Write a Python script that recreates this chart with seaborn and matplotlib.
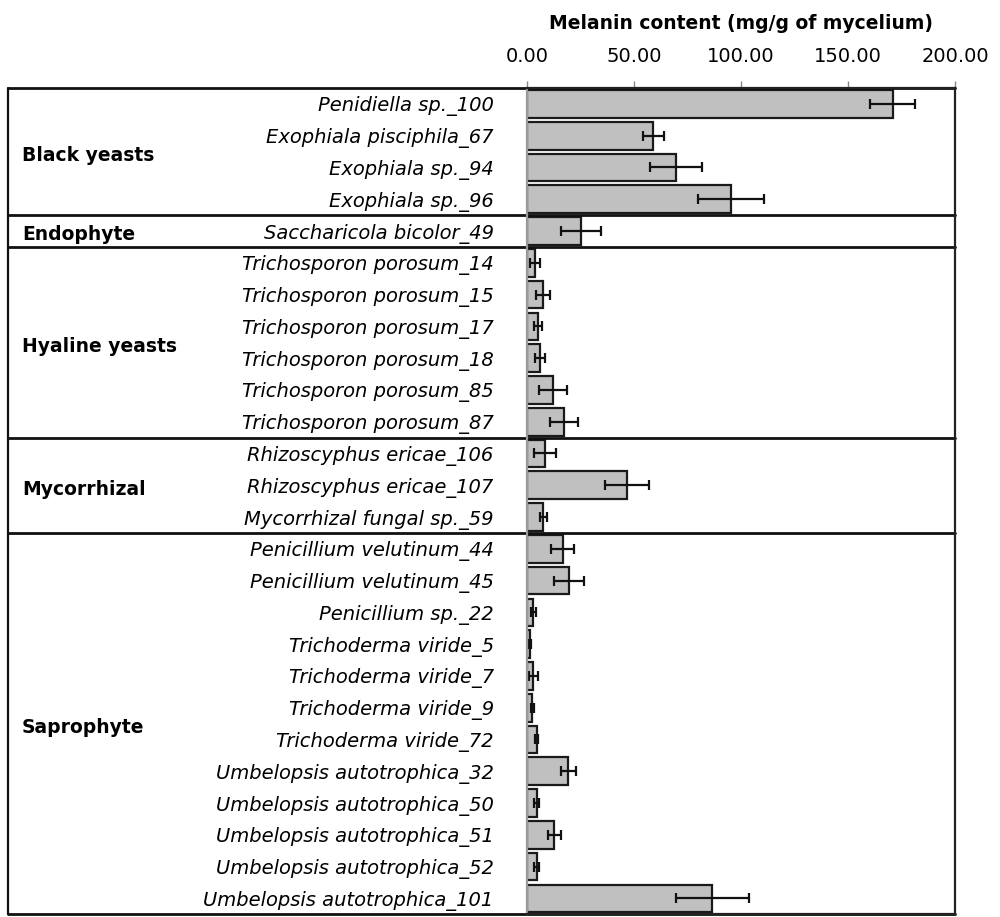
import matplotlib
matplotlib.use('Agg')
import matplotlib.pyplot as plt
import matplotlib.transforms as mtransforms
import numpy as np
import pandas as pd
import seaborn as sns

species = ['Penidiella sp._100', 'Exophiala pisciphila_67', 'Exophiala sp._94', 'Exophiala sp._96',
           'Saccharicola bicolor_49',
           'Trichosporon porosum_14', 'Trichosporon porosum_15', 'Trichosporon porosum_17',
           'Trichosporon porosum_18', 'Trichosporon porosum_85', 'Trichosporon porosum_87',
           'Rhizoscyphus ericae_106', 'Rhizoscyphus ericae_107', 'Mycorrhizal fungal sp._59',
           'Penicillium velutinum_44', 'Penicillium velutinum_45', 'Penicillium sp._22',
           'Trichoderma viride_5', 'Trichoderma viride_7', 'Trichoderma viride_9',
           'Trichoderma viride_72', 'Umbelopsis autotrophica_32', 'Umbelopsis autotrophica_50',
           'Umbelopsis autotrophica_51', 'Umbelopsis autotrophica_52', 'Umbelopsis autotrophica_101']
melanin = [171.0, 59.0, 69.6, 95.2,
           25.1,
           3.8, 7.6, 5.3, 6.1, 12.0, 17.4,
           8.4, 46.6, 7.6,
           16.7, 19.6, 3.0, 1.4, 3.0, 2.5, 4.5, 19.3, 4.5, 12.8, 4.5, 86.6]
sd = [10.5, 5.0, 12.0, 15.4,
      9.4,
      2.5, 3.3, 1.8, 2.5, 6.6, 6.6,
      5.0, 10.3, 1.6,
      5.4, 7.0, 1.0, 0.5, 2.0, 0.8, 0.8, 3.5, 1.0, 2.9, 1.0, 17.0]
groups = ['Black yeasts'] * 4 + ['Endophyte'] + ['Hyaline yeasts'] * 6 + \
         ['Mycorrhizal'] * 3 + ['Saprophyte'] * 12
group_names = ['Black yeasts', 'Endophyte', 'Hyaline yeasts', 'Mycorrhizal', 'Saprophyte']
xticks = [0, 50, 100, 150, 200]

df = pd.DataFrame({'species': species, 'melanin': melanin, 'sd': sd, 'group': groups})

sns.set_style('white')
plt.rcParams['font.family'] = ['DejaVu Sans']
plt.rcParams['text.color'] = 'black'
plt.rcParams['axes.labelcolor'] = 'black'
plt.rcParams['xtick.labelcolor'] = 'black'
plt.rcParams['ytick.labelcolor'] = 'black'

fig = plt.figure(figsize=(10, 9.17), dpi=100)
ax = fig.add_axes([0.527, 0.003, 0.428, 0.901])

sns.barplot(data=df, x='melanin', y='species', orient='h', color='#c0c0c0',
            edgecolor='#1a1a1a', linewidth=1.6, width=0.87, saturation=1, ax=ax)
ax.errorbar(df['melanin'], np.arange(len(df)), xerr=df['sd'], fmt='none',
            ecolor='#111111', elinewidth=1.6, capsize=3.5, capthick=1.6)

ax.set_xlim(0, 200)
ax.set_ylim(len(df) - 0.5, -0.5)
ax.xaxis.tick_top()
ax.xaxis.set_label_position('top')
ax.set_xticks(xticks)
ax.set_xticklabels(['%.2f' % v for v in xticks], fontsize=14)
ax.tick_params(axis='x', direction='out', length=5, width=1, color='#888888', pad=11)
ax.set_xlabel('Melanin content (mg/g of mycelium)', fontsize=13.5, fontweight='bold', labelpad=13)
ax.set_ylabel('')

# species labels, with Excel-style ticks between categories
ax.tick_params(axis='y', which='major', length=0, pad=24)
for lbl in ax.get_yticklabels():
    lbl.set_fontstyle('italic')
    lbl.set_fontsize(14)
ax.set_yticks(np.arange(len(df) + 1) - 0.5, minor=True)
ax.tick_params(axis='y', which='minor', direction='out', length=6, width=1, color='#999999')

for side in ['top', 'right', 'bottom']:
    ax.spines[side].set_color('#222222')
    ax.spines[side].set_linewidth(1.6)
ax.spines['left'].set_color('#999999')
ax.spines['left'].set_linewidth(1.6)

# group boxes spanning the label area
trans = mtransforms.blended_transform_factory(ax.transAxes, ax.transData)
x_left = -1.213
bounds = [-0.5]
for g in group_names:
    idx = [i for i, gg in enumerate(groups) if gg == g]
    bounds.append(idx[-1] + 0.5)
    yc = np.mean(idx) + 0.12
    ax.text(-1.18, yc, g, transform=trans, fontsize=13.5, fontweight='bold',
            ha='left', va='center')
for b in bounds:
    ax.plot([x_left, 1], [b, b], transform=trans, color='#111111', lw=2, clip_on=False)
ax.plot([x_left, x_left], [bounds[0], bounds[-1]], transform=trans, color='#111111',
        lw=1.6, clip_on=False)

fig.savefig('out.png', dpi=100)
